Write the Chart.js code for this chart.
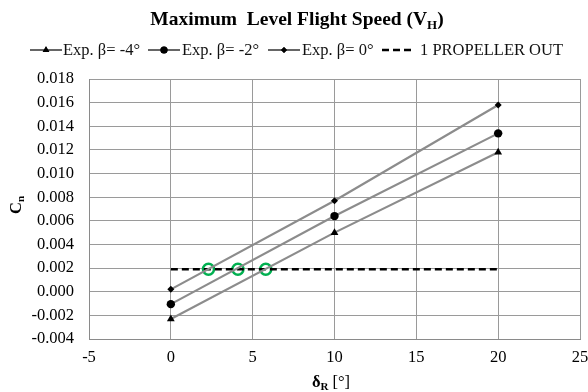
<!DOCTYPE html>
<html><head><meta charset="utf-8">
<script src="https://cdn.jsdelivr.net/npm/chart.js@4"></script>
<style>html,body{margin:0;padding:0;background:#fff}#wrap{width:588px;height:392px;position:relative}</style>
</head><body><div id="wrap"><canvas id="c" width="588" height="392"></canvas></div>
<script>
const deltaR = [0, 10, 20];
const cnBetaM4 = [-0.0023, 0.0050, 0.0118];
const cnBetaM2 = [-0.00105, 0.0064, 0.0134];
const cnBeta0 = [0.0002, 0.0077, 0.0158];
const propOutX = [0, 20];
const propOutY = [0.0019, 0.0019];
const crossX = [2.3, 4.1, 5.8];
const crossY = [0.0019, 0.0019, 0.0019];
const xTicks = [-5, 0, 5, 10, 15, 20, 25];
const yTicks = [-0.004, -0.002, 0, 0.002, 0.004, 0.006, 0.008, 0.010, 0.012, 0.014, 0.016, 0.018];
const labels = ['Exp. \u03b2= -4\u00b0', 'Exp. \u03b2= -2\u00b0', 'Exp. \u03b2= 0\u00b0', '1 PROPELLER OUT'];

const pts = (xs, ys) => xs.map((x, i) => ({x, y: ys[i]}));
const SERIF = '"Liberation Serif", "DejaVu Serif", serif';

const datasets = [
  {label: labels[0], data: pts(deltaR, cnBetaM4), borderColor: '#8c8c8c', borderWidth: 2.2,
   pointStyle: 'triangle', pointRadius: 4.5, pointBackgroundColor: '#000', pointBorderColor: '#000', pointBorderWidth: 0},
  {label: labels[1], data: pts(deltaR, cnBetaM2), borderColor: '#8c8c8c', borderWidth: 2.2,
   pointStyle: 'circle', pointRadius: 4.2, pointBackgroundColor: '#000', pointBorderColor: '#000', pointBorderWidth: 0},
  {label: labels[2], data: pts(deltaR, cnBeta0), borderColor: '#8c8c8c', borderWidth: 2.2,
   pointStyle: 'rectRot', pointRadius: 3.5, pointBackgroundColor: '#000', pointBorderColor: '#000', pointBorderWidth: 0},
  {label: labels[3], data: pts(propOutX, propOutY), borderColor: '#000', borderWidth: 2.5, borderDash: [7, 4],
   pointRadius: 0},
  {label: 'crossings', data: pts(crossX, crossY), showLine: false, pointStyle: 'circle', pointRadius: 5.5,
   pointBackgroundColor: '#fff', pointBorderColor: '#00b050', pointBorderWidth: 2.5}
];

function drawSub(ctx, parts, x, y, align) {
  let total = 0;
  parts.forEach(p => { ctx.font = p.font; total += ctx.measureText(p.t).width; });
  let cx = align === 'center' ? x - total / 2 : x;
  ctx.textAlign = 'left';
  ctx.textBaseline = 'alphabetic';
  parts.forEach(p => { ctx.font = p.font; ctx.fillText(p.t, cx, y + (p.dy || 0)); cx += ctx.measureText(p.t).width; });
}

const decor = {
  id: 'decor',
  afterDraw(chart) {
    const ctx = chart.ctx;
    const ca = chart.chartArea;
    ctx.save();
    ctx.fillStyle = '#000';
    // Title
    drawSub(ctx, [
      {t: 'Maximum  Level Flight Speed (V', font: 'bold 19.5px ' + SERIF},
      {t: 'H', font: 'bold 13px ' + SERIF, dy: 4},
      {t: ')', font: 'bold 19.5px ' + SERIF}
    ], 297, 25, 'center');
    // X axis title
    drawSub(ctx, [
      {t: '\u03b4', font: 'bold 16.5px ' + SERIF},
      {t: 'R', font: 'bold 11px ' + SERIF, dy: 3},
      {t: ' [\u00b0]', font: '16.5px ' + SERIF}
    ], 331, 387, 'center');
    // Y axis title
    ctx.save();
    ctx.translate(21, 205);
    ctx.rotate(-Math.PI / 2);
    drawSub(ctx, [
      {t: 'C', font: 'bold 16.5px ' + SERIF},
      {t: 'n', font: 'bold 11px ' + SERIF, dy: 3}
    ], 0, 0, 'center');
    ctx.restore();
    // Legend
    const items = [
      {ds: 0, x0: 30, x1: 62, tx: 63},
      {ds: 1, x0: 148, x1: 180, tx: 182},
      {ds: 2, x0: 268, x1: 300, tx: 302},
      {ds: 3, x0: 382, x1: 412, tx: 420}
    ];
    const ly = 50;
    items.forEach(it => {
      const d = chart.data.datasets[it.ds];
      ctx.save();
      ctx.strokeStyle = it.ds === 3 ? '#000' : '#555';
      ctx.lineWidth = it.ds === 3 ? 2.5 : 1.8;
      ctx.setLineDash(it.ds === 3 ? [7, 4] : []);
      ctx.beginPath(); ctx.moveTo(it.x0, ly); ctx.lineTo(it.x1, ly); ctx.stroke();
      ctx.restore();
      if (d.pointRadius > 0) {
        Chart.helpers.drawPoint(ctx, {pointStyle: d.pointStyle, radius: d.pointRadius * 0.85, rotation: 0, borderWidth: 0},
          (it.x0 + it.x1) / 2, ly);
        ctx.fillStyle = '#000';
        ctx.fill();
      }
      ctx.fillStyle = '#111';
      ctx.font = '16.5px ' + SERIF;
      ctx.textAlign = 'left';
      ctx.textBaseline = 'middle';
      ctx.fillText(d.label, it.tx, ly + 1);
    });
    ctx.restore();
  }
};

new Chart(document.getElementById('c'), {
  type: 'scatter',
  data: {datasets},
  options: {
    responsive: false,
    animation: false,
    devicePixelRatio: 1,
    layout: {padding: {left: 0, right: 7, top: 79, bottom: 0}},
    plugins: {legend: {display: false}, title: {display: false}, tooltip: {enabled: false}},
    elements: {line: {tension: 0, fill: false}},
    datasets: {scatter: {showLine: true}},
    scales: {
      x: {
        type: 'linear', min: -5, max: 25,
        afterBuildTicks: s => { s.ticks = xTicks.map(v => ({value: v})); },
        afterFit: s => { s.height = 53; s.paddingLeft = 0; s.paddingRight = 0; },
        ticks: {color: '#000', font: {family: SERIF, size: 16.5}, padding: 9, maxRotation: 0},
        grid: {color: '#9a9a9a', lineWidth: 1, drawTicks: false},
        border: {color: '#8a8a8a', width: 1}
      },
      y: {
        type: 'linear', min: -0.004, max: 0.018,
        afterBuildTicks: s => { s.ticks = yTicks.map(v => ({value: v})); },
        afterFit: s => { s.width = 89; s.paddingTop = 0; s.paddingBottom = 0; },
        ticks: {color: '#000', font: {family: SERIF, size: 16.5}, padding: 15,
          callback: v => (Math.abs(v) < 1e-12 ? 0 : v).toFixed(3)},
        grid: {color: '#9a9a9a', lineWidth: 1, drawTicks: false},
        border: {color: '#8a8a8a', width: 1}
      }
    }
  },
  plugins: [decor]
});
</script></body></html>
